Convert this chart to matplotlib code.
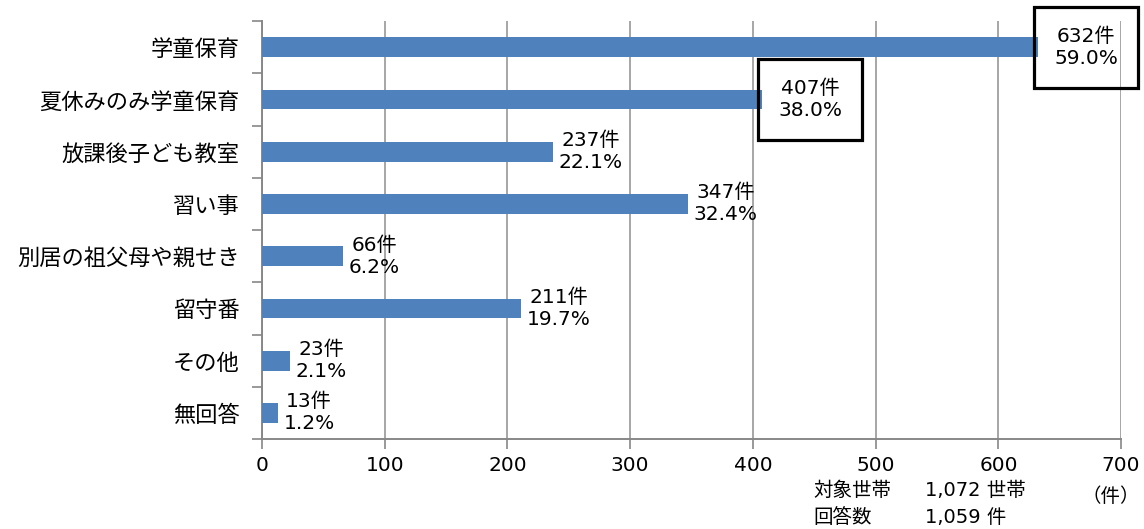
import matplotlib.pyplot as plt
import numpy as np

plt.rcParams['font.family'] = ['Noto Sans CJK JP', 'DejaVu Sans']

# data
categories = ['学童保育', '夏休みのみ学童保育', '放課後子ども教室', '習い事',
              '別居の祖父母や親せき', '留守番', 'その他', '無回答']
counts = [632, 407, 237, 347, 66, 211, 23, 13]
percents = [59.0, 38.0, 22.1, 32.4, 6.2, 19.7, 2.1, 1.2]
boxed = [True, True, False, False, False, False, False, False]
xticks = [0, 100, 200, 300, 400, 500, 600, 700]

bar_color = '#4F81BD'
grid_color = '#A6A6A6'
fs = 15
num_family = ['DejaVu Sans', 'Noto Sans CJK JP']

fig = plt.figure(figsize=(11.44, 5.29), dpi=100)
ax = fig.add_axes([0.229, 0.170, 0.751, 0.790])

y = np.arange(len(categories))
ax.barh(y, counts, height=0.38, color=bar_color, zorder=3)

ax.set_xlim(0, 700)
ax.set_ylim(len(categories) - 0.5, -0.5)
ax.set_xticks(xticks)
ax.set_xticklabels([str(t) for t in xticks], fontsize=fs - 0.5, family=num_family)
ax.set_yticks(y)
ax.set_yticklabels(categories, fontsize=fs + 1)
ax.set_yticks(np.arange(len(categories) + 1) - 0.5, minor=True)
ax.tick_params(axis='y', which='major', length=0, pad=16)
ax.tick_params(axis='y', which='minor', length=7, width=1.2, color='#888888')
ax.tick_params(axis='x', length=7, width=1.2, color='#888888', pad=5)

ax.grid(axis='x', color=grid_color, linewidth=1.4, zorder=0)
for s in ['top', 'right']:
    ax.spines[s].set_visible(False)
for s in ['left', 'bottom']:
    ax.spines[s].set_color('#888888')
    ax.spines[s].set_linewidth(1.4)

for yi, c, p, b in zip(y, counts, percents, boxed):
    txt = f'{c}件\n{p:.1f}%'
    if b:
        ax.annotate(txt, xy=(c, yi), xytext=(12, 0), textcoords='offset points',
                    ha='left', va='center', multialignment='center', fontsize=fs - 0.5,
                    family=num_family, linespacing=1.2, annotation_clip=False, zorder=5,
                    bbox=dict(boxstyle='square,pad=1.0', fc='none', ec='black', lw=2.3))
    else:
        ax.annotate(txt, xy=(c, yi), xytext=(4, 0), textcoords='offset points',
                    ha='left', va='center', multialignment='center', fontsize=fs - 0.5,
                    family=num_family, linespacing=1.2, annotation_clip=False, zorder=5)

fig.text(0.711, 0.073, '対象世帯', fontsize=fs - 1, va='center')
fig.text(0.809, 0.073, '1,072 世帯', fontsize=fs - 1, va='center', family=num_family)
fig.text(0.711, 0.022, '回答数', fontsize=fs - 1, va='center')
fig.text(0.809, 0.022, '1,059 件', fontsize=fs - 1, va='center', family=num_family)
fig.text(0.945, 0.062, '（件）', fontsize=fs - 1, va='center')

fig.savefig('out.png', dpi=100)
